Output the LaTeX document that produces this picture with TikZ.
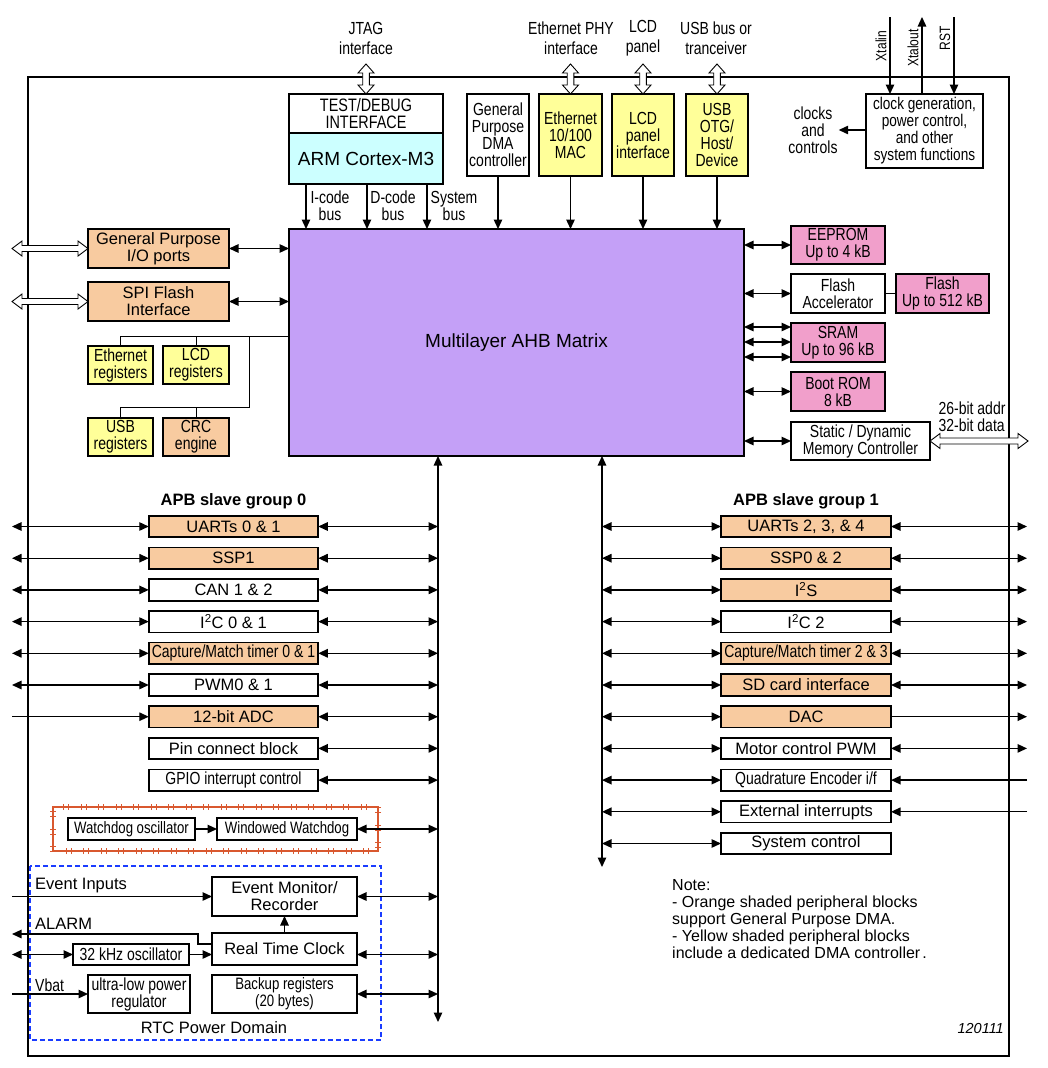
\documentclass[tikz,border=0pt]{standalone}
\usepackage{fontspec}
\setmainfont{Liberation Sans}
\newfontfamily\cf{Liberation Sans}[FakeStretch=0.8]
\usetikzlibrary{arrows.meta,calc,decorations.markings}
\definecolor{cOr}{HTML}{F8CBA0}
\definecolor{cYe}{HTML}{FFFF99}
\definecolor{cPk}{HTML}{F19FCB}
\definecolor{cPu}{HTML}{C4A0F7}
\definecolor{cCy}{HTML}{CCFFFF}
\definecolor{cRd}{HTML}{D9582F}
\definecolor{cBl}{HTML}{1A3CFF}
\newcommand\fN{\fontsize{16.5}{17}\selectfont}
\newcommand\fC{\cf\fontsize{17.5}{17}\selectfont}
\newcommand\hollowV[2]{\draw[hollow] let \p1=(#1), \p2=(#2) in
 (\x1,\y1) -- (\x1+8pt,\y1-9pt) -- (\x1+3.3pt,\y1-9pt) -- (\x1+3.3pt,\y2+9pt) -- (\x1+8pt,\y2+9pt) -- (\x1,\y2)
 -- (\x1-8pt,\y2+9pt) -- (\x1-3.3pt,\y2+9pt) -- (\x1-3.3pt,\y1-9pt) -- (\x1-8pt,\y1-9pt) -- cycle;}
\newcommand\hollowH[2]{\draw[hollow] let \p1=(#1), \p2=(#2) in
 (\x1,\y1) -- (\x1+10pt,\y1+7.5pt) -- (\x1+10pt,\y1+3pt) -- (\x2-10pt,\y1+3pt) -- (\x2-10pt,\y1+7.5pt) -- (\x2,\y1)
 -- (\x2-10pt,\y1-7.5pt) -- (\x2-10pt,\y1-3pt) -- (\x1+10pt,\y1-3pt) -- (\x1+10pt,\y1-7.5pt) -- cycle;}
\begin{document}
\begin{tikzpicture}[x=1pt,y=-1pt,
 bx/.style={draw, line width=1.7pt, outer sep=0pt, inner sep=0pt, align=center, font=\fC},
 wbx/.style={bx, font=\fN},
 fo/.style={fill=cOr}, fy/.style={fill=cYe}, fp/.style={fill=cPk},
 conn/.style={line width=1.3pt},
 tl/.style={line width=1pt},
 arr/.style={conn,-{Triangle[length=9.5pt,width=8.5pt]}},
 darr/.style={conn,{Triangle[length=9.5pt,width=8.5pt]}-{Triangle[length=9.5pt,width=8.5pt]}},
 hollow/.style={draw, fill=white, line width=0.9pt, line join=miter},
 lbl/.style={font=\fC, align=center, inner sep=0pt},
 toplbl/.style={align=center, inner sep=0pt, font=\cf\fontsize{17.5}{20}\selectfont},
 apb/.style={minimum width=169.5pt, minimum height=21.5pt},
 apbb/.style={minimum width=170pt, minimum height=21.5pt},
 ]
\useasboundingbox (0,0) rectangle (1048,1068);
\fill[white] (0,0) rectangle (1048,1068);
% outer chip boundary
\draw[line width=1.8pt] (28,77) rectangle (1009,1056);

% ---------- top row ----------
\node[bx, minimum width=154pt, minimum height=39pt, font=\cf\fontsize{18}{17}\selectfont] (testdbg) at (366,113.5) {TEST/DEBUG\\INTERFACE};
\node[bx, fill=cCy, minimum width=154pt, minimum height=51pt, font=\fontsize{19}{22}\selectfont] (arm) at (366,158.5) {ARM Cortex-M3};
\node[bx, minimum width=62pt, minimum height=82pt] (gpdma) at (498,135) {General\\Purpose\\DMA\\controller};
\node[bx, fy, minimum width=63pt, minimum height=82pt] (eth) at (570.5,135) {Ethernet\\10/100\\MAC};
\node[bx, fy, minimum width=62pt, minimum height=82pt] (lcdif) at (643,135) {LCD\\panel\\interface};
\node[bx, fy, minimum width=62pt, minimum height=82pt] (usb) at (717,135) {USB\\OTG/\\Host/\\Device};
\node[bx, minimum width=117pt, minimum height=74pt, font=\cf\fontsize{17}{17}\selectfont] (clk) at (924.5,131) {clock generation,\\power control,\\and other\\system functions};

\node[toplbl] (ljtag) at (366,38) {JTAG\\interface};
\node[toplbl] (leth) at (571,38) {Ethernet PHY\\interface};
\node[toplbl] (llcd) at (643,38) {LCD\\panel};
\node[toplbl] (lusb) at (716,38) {USB bus or\\tranceiver};

\coordinate (jtagE) at (366,64);
\coordinate (ethE) at (570.5,64);
\coordinate (lcdE) at (643,64);
\coordinate (usbE) at (717,64);
\hollowV{jtagE}{testdbg.north}
\hollowV{ethE}{eth.north}
\hollowV{lcdE}{lcdif.north}
\hollowV{usbE}{usb.north}

% clock pins
\coordinate (xi) at (890,17);
\coordinate (xo) at (922,17);
\coordinate (rst) at (954,17);
\draw[arr] (xi) -- (xi |- clk.north);
\draw[arr] (xo |- clk.north) -- (xo);
\draw[arr] (rst) -- (rst |- clk.north);
\node[lbl, rotate=90, font=\cf\fontsize{15}{14}\selectfont] (lxi) at (881,46) {Xtalin};
\node[lbl, rotate=90, font=\cf\fontsize{15}{14}\selectfont] (lxo) at (913,48) {Xtalout};
\node[lbl, rotate=90, font=\cf\fontsize{15}{14}\selectfont] (lrst) at (945,38) {RST};
\node[lbl, inner sep=1pt] (clkctl) at (813,130) {clocks\\and\\controls};
\draw[arr] (clk.west |- clkctl.east) -- (clkctl.east);

% ---------- AHB matrix ----------
\node[bx, fill=cPu, minimum width=455pt, minimum height=227pt, font=\fontsize{19}{22}\selectfont] (ahb) at (516.5,342.5) {Multilayer AHB Matrix};

\coordinate (ic) at (306,0);
\coordinate (dc) at (367,0);
\coordinate (sb) at (427,0);
\draw[arr] (arm.south -| ic) -- (ahb.north -| ic);
\draw[arr] (arm.south -| dc) -- (ahb.north -| dc);
\draw[arr] (arm.south -| sb) -- (ahb.north -| sb);
\node[lbl] (lic) at (330,206) {I-code\\bus};
\node[lbl] (ldc) at (393,206) {D-code\\bus};
\node[lbl] (lsb) at (454,206) {System\\bus};
\draw[arr] (gpdma.south) -- (gpdma.south |- ahb.north);
\draw[arr] (eth.south) -- (eth.south |- ahb.north);
\draw[arr] (lcdif.south) -- (lcdif.south |- ahb.north);
\draw[arr] (usb.south) -- (usb.south |- ahb.north);

% ---------- left of AHB ----------
\node[wbx, fo, minimum width=141pt, minimum height=39pt] (gpio) at (158.5,248.5) {General Purpose\\I/O ports};
\node[wbx, fo, minimum width=141pt, minimum height=39pt] (spi) at (158.5,301.5) {SPI Flash\\Interface};
\node[bx, fy, minimum width=65pt, minimum height=38pt] (ethreg) at (120.5,365) {Ethernet\\registers};
\node[bx, fy, minimum width=66pt, minimum height=38pt] (lcdreg) at (196,365) {LCD\\registers};
\node[bx, fy, minimum width=65pt, minimum height=38pt] (usbreg) at (120.5,437) {USB\\registers};
\node[bx, fo, minimum width=66pt, minimum height=38pt] (crc) at (196,437) {CRC\\engine};
\draw[darr] (gpio.east) -- (gpio.east -| ahb.west);
\draw[darr] (spi.east) -- (spi.east -| ahb.west);
\coordinate (gpE) at (12,248.5);
\coordinate (spE) at (12,301.5);
\hollowH{gpE}{gpio.west}
\hollowH{spE}{spi.west}
\coordinate (j1) at (249,336);
\coordinate (j2) at (249,407);
\draw[tl] (ahb.west |- j1) -| (ethreg.north);
\draw[tl] (lcdreg.north |- j1) -- (lcdreg.north);
\draw[tl] (j1) -- (j2) -| (usbreg.north);
\draw[tl] (crc.north |- j2) -- (crc.north);

% ---------- right of AHB ----------
\node[bx, fp, minimum width=94pt, minimum height=38pt] (eeprom) at (838,245) {EEPROM\\Up to 4 kB};
\node[bx, minimum width=94pt, minimum height=39pt] (flacc) at (838,293.5) {Flash\\Accelerator};
\node[bx, fp, minimum width=93pt, minimum height=39pt] (flash) at (942.5,293.5) {Flash\\Up to 512 kB};
\node[bx, fp, minimum width=94pt, minimum height=39pt] (sram) at (838,342.5) {SRAM\\Up to 96 kB};
\node[bx, fp, minimum width=94pt, minimum height=39pt] (bootrom) at (838,391.5) {Boot ROM\\8 kB};
\node[bx, minimum width=139pt, minimum height=38pt] (emc) at (860.5,441) {Static / Dynamic\\Memory Controller};
\draw[darr] (ahb.east |- eeprom.west) -- (eeprom.west);
\draw[darr] (ahb.east |- flacc.west) -- (flacc.west);
\draw[tl] (flacc.east) -- (flash.west);
\foreach \yy in {327,342,357} {\draw[darr] (ahb.east |- 0,\yy) -- (sram.west |- 0,\yy);}
\draw[darr] (ahb.east |- bootrom.west) -- (bootrom.west);
\draw[darr] (ahb.east |- emc.west) -- (emc.west);
\coordinate (emcE) at (1028,441);
\hollowH{emc.east}{emcE}
\node[lbl, align=left] (lemc) at (972,416.5) {26-bit addr\\32-bit data};

% ---------- APB buses ----------
\coordinate (L) at (12,0);
\coordinate (R) at (1027,0);
\coordinate (busLend) at (438,1022);
\coordinate (busRend) at (602,867);
\draw[darr] (ahb.south -| busLend) -- (busLend);
\draw[darr] (ahb.south -| busRend) -- (busRend);

\node[font=\bfseries\fontsize{16.5}{17}\selectfont, inner sep=0pt] (g0) at (233.5,501) {APB slave group 0};
\node[font=\bfseries\fontsize{16.5}{17}\selectfont, inner sep=0pt] (g1) at (806,501) {APB slave group 1};

\node[wbx, fo, apb] (a0) at (233.5,526.5) {UARTs 0 \& 1};
\node[wbx, fo, apb] (a1) at (233.5,558.2) {SSP1};
\node[wbx, apb] (a2) at (233.5,589.9) {CAN 1 \& 2};
\node[wbx, apb] (a3) at (233.5,621.6) {I\textsuperscript{2}C 0 \& 1};
\node[bx, fo, apb] (a4) at (233.5,653.3) {Capture/Match timer 0 \& 1};
\node[wbx, apb] (a5) at (233.5,685) {PWM0 \& 1};
\node[wbx, fo, apb] (a6) at (233.5,716.7) {12-bit ADC};
\node[wbx, apb] (a7) at (233.5,748.4) {Pin connect block};
\node[bx, apb] (a8) at (233.5,780.1) {GPIO interrupt control};

\node[wbx, fo, apbb] (b0) at (806,526.5) {UARTs 2, 3, \& 4};
\node[wbx, fo, apbb] (b1) at (806,558.2) {SSP0 \& 2};
\node[wbx, fo, apbb] (b2) at (806,589.9) {I\textsuperscript{2}S};
\node[wbx, apbb] (b3) at (806,621.6) {I\textsuperscript{2}C 2};
\node[bx, fo, apbb] (b4) at (806,653.3) {Capture/Match timer 2 \& 3};
\node[wbx, fo, apbb] (b5) at (806,685) {SD card interface};
\node[wbx, fo, apbb] (b6) at (806,716.7) {DAC};
\node[wbx, apbb] (b7) at (806,748.4) {Motor control PWM};
\node[bx, apbb] (b8) at (806,780.1) {Quadrature Encoder i/f};
\node[wbx, apbb] (b9) at (806,811.8) {External interrupts};
\node[wbx, apbb] (b10) at (806,843.5) {System control};

\foreach \i in {0,...,8} {\draw[darr] (a\i.east) -- (a\i.east -| busLend);}
\foreach \i in {0,...,5} {\draw[darr] (L |- a\i.west) -- (a\i.west);}
\draw[arr] (L |- a6.west) -- (a6.west);
\foreach \i in {0,...,10} {\draw[darr] (b\i.west -| busRend) -- (b\i.west);}
\foreach \i in {0,1,2,3,4,5,7} {\draw[darr] (b\i.east) -- (b\i.east -| R);}
\draw[arr] (b6.east) -- (b6.east -| R);
\foreach \i in {8,9} {\draw[arr] (b\i.east -| R) -- (b\i.east);}

% ---------- watchdog ----------
\draw[cRd, line width=1.1pt, postaction={decorate},
  decoration={markings, mark=between positions 0.01 and 1 step 17.5pt with
   {\draw[cRd, line width=0.8pt] (-2.5pt,-3pt) -- (-2.5pt,3pt) (2.5pt,-3pt) -- (2.5pt,3pt);}}]
  (53,807) rectangle (378,851);
\node[bx, minimum width=127pt, minimum height=22pt, font=\cf\fontsize{16.5}{17}\selectfont] (wdosc) at (131.5,829) {Watchdog oscillator};
\node[bx, minimum width=140pt, minimum height=22pt, font=\cf\fontsize{16.5}{17}\selectfont] (wwd) at (287,829) {Windowed Watchdog};
\draw[arr] (wdosc.east) -- (wwd.west);
\draw[darr] (wwd.east) -- (wwd.east -| busLend);

% ---------- RTC power domain ----------
\draw[cBl, line width=1.2pt, dash pattern=on 5pt off 3pt] (30,866) rectangle (381,1040);
\node[wbx, minimum width=145pt, minimum height=39pt] (evm) at (284.5,896.5) {Event Monitor/\\Recorder};
\node[wbx, minimum width=145pt, minimum height=32pt] (rtc) at (284.5,949) {Real Time Clock};
\node[bx, minimum width=116pt, minimum height=21pt] (osc32) at (131,954.5) {32 kHz oscillator};
\node[bx, minimum width=102pt, minimum height=38pt] (ulp) at (139,994) {ultra-low power\\regulator};
\node[bx, minimum width=145pt, minimum height=38pt, font=\cf\fontsize{16.5}{17}\selectfont] (backup) at (284.5,994) {Backup registers\\(20 bytes)};
\draw[arr] (L |- evm.west) -- (evm.west);
\draw[darr] (evm.east) -- (evm.east -| busLend);
\draw[arr] (rtc.north) -- (evm.south);
\coordinate (alA) at (198,944);
\coordinate (alB) at (198,934);
\draw[arr] (alA -| rtc.west) -- (alA) -- (alB) -- (alB -| L);
\draw[darr] (L |- osc32.west) -- (osc32.west);
\draw[arr] (osc32.east) -- (osc32.east -| rtc.west);
\draw[darr] (rtc.east |- osc32.east) -- (osc32.east -| busLend);
\draw[arr] (L |- ulp.west) -- (ulp.west);
\draw[darr] (backup.east) -- (backup.east -| busLend);
\node[font=\fN, anchor=west, inner sep=0pt] (lev) at (35,886) {Event Inputs};
\node[font=\fN, anchor=west, inner sep=0pt] (lal) at (35,924) {ALARM};
\node[font=\fC, anchor=west, inner sep=0pt] (lvb) at (35,985) {Vbat};
\node[font=\fN, inner sep=0pt] (lrtcd) at (214,1028) {RTC Power Domain};

% ---------- note ----------
\node[anchor=north west, align=left, inner sep=0pt, font=\fontsize{16}{17}\selectfont] (note) at (672,879)
 {Note:\\- Orange shaded peripheral blocks\\support General Purpose DMA.\\- Yellow shaded peripheral blocks\\include a dedicated DMA controller{\kern2pt}.};
\node[anchor=east, inner sep=0pt, font=\itshape\fontsize{14.5}{17}\selectfont] (fig) at (1004,1028) {120111};
\end{tikzpicture}
\end{document}
